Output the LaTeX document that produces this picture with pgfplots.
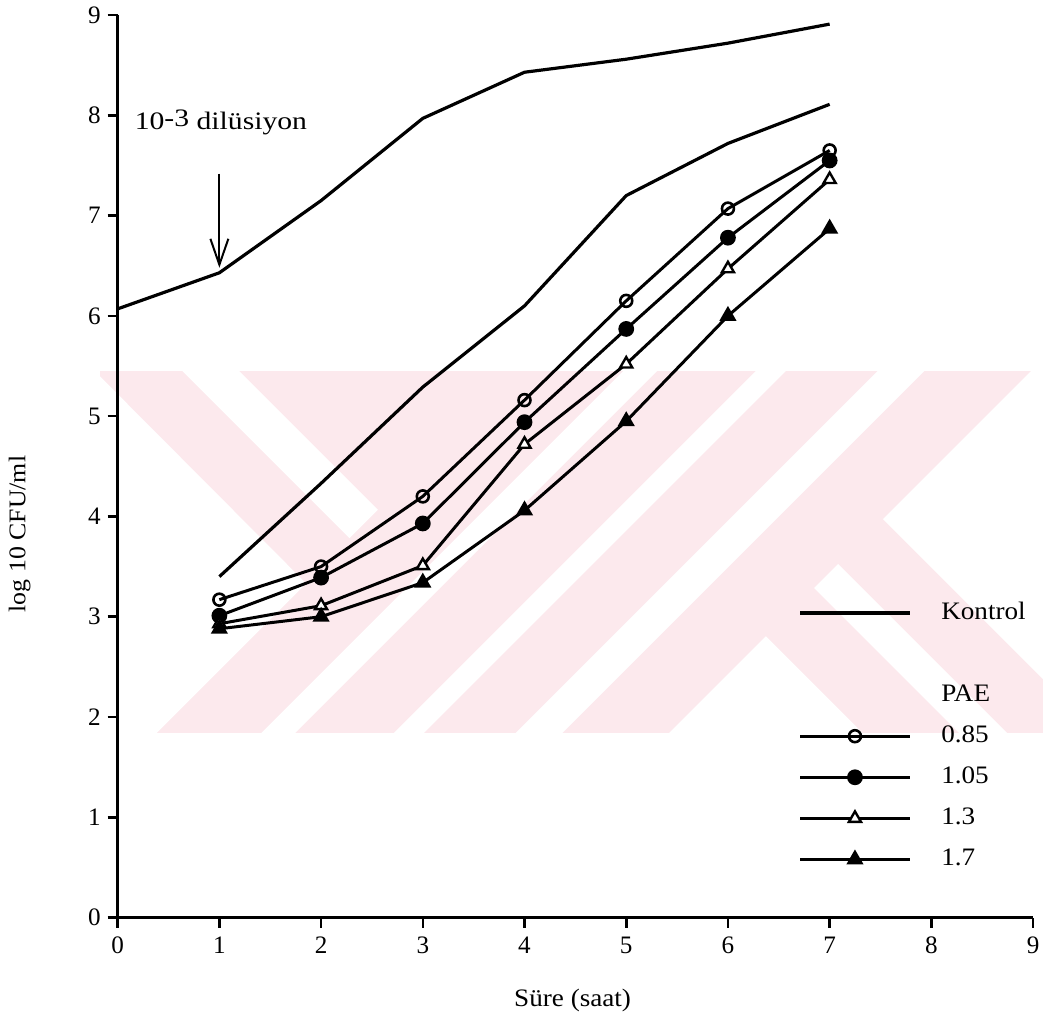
\documentclass[border=0pt]{standalone}
\usepackage{fontspec}
\setmainfont{Liberation Serif}
\newfontfamily\wide{Liberation Serif}[FakeStretch=1.08]
\newfontfamily\wider{Liberation Serif}[FakeStretch=1.18]
\usepackage{pgfplots}
\pgfplotsset{compat=1.18}
\usetikzlibrary{arrows.meta}
\definecolor{wm}{RGB}{252,233,237}

\pgfplotstableread{
x y
0 6.07
1 6.43
2 7.15
3 7.97
4 8.43
5 8.56
6 8.72
7 8.91
}\kontrolA
\pgfplotstableread{
x y
1 3.40
2 4.33
3 5.29
4 6.10
5 7.20
6 7.72
7 8.11
}\kontrolB
\pgfplotstableread{
x a b c d
1 3.17 3.01 2.93 2.88
2 3.50 3.39 3.11 3.00
3 4.20 3.93 3.51 3.34
4 5.16 4.94 4.72 4.06
5 6.15 5.87 5.52 4.95
6 7.07 6.78 6.47 6.00
7 7.65 7.55 7.36 6.87
}\pae

\begin{document}
\begin{tikzpicture}
\begin{scope}[x=0.5pt,y=-0.5pt,shift={(-59pt,460pt)}]
\useasboundingbox (0,0) rectangle (1046,1026);
\begin{scope}
\clip (100,372) rectangle (1046,735);
\fill[wm] (100,372) rectangle (1046,735);
\fill[white] (95,372) -- (307,585) -- (157,735) -- (95,735) -- cycle;
\fill[white] (183,372) -- (240,372) -- (379,511) -- (350.5,539.5) -- cycle;
\fill[white] (625,372) -- (659,372) -- (296,735) -- (262,735) -- cycle;
\fill[white] (758,372) -- (788,372) -- (425,735) -- (395,735) -- cycle;
\fill[white] (880,372) -- (927,372) -- (564,735) -- (517,735) -- cycle;
\fill[white] (1034,372) -- (1046,372) -- (1046,681) -- (885.5,520.5) -- cycle;
\fill[white] (840.5,565.5) -- (1010,735) -- (962,735) -- (816.5,589.5) -- cycle;
\fill[white] (768,638) -- (865,735) -- (671,735) -- cycle;
\end{scope}
\end{scope}
\begin{axis}[
  scale only axis, width=459pt, height=452.5pt,
  xmin=0, xmax=9, ymin=0, ymax=9,
  axis lines*=left,
  axis line style={line width=1.5pt},
  xtick={0,...,9}, ytick={0,...,9},
  tick align=outside, major tick length=5pt,
  tick style={line width=1.3pt, black},
  /pgf/number format/assume math mode=true,
  tick label style={font=\fontsize{12.6}{14}\selectfont},
  xticklabel style={yshift=-1pt},
  xlabel={Süre (saat)},
  ylabel={log 10 CFU/ml},
  xlabel style={font=\wide\fontsize{12.6}{14}\selectfont, at={(axis description cs:0.497,-0.092)}, anchor=center},
  ylabel style={font=\wide\fontsize{12}{13}\selectfont, at={(axis description cs:-0.107,0.425)}, anchor=center, rotate=0},
  legend style={draw=none, fill=none, at={(axis cs:6.69,3.156)}, anchor=north west,
    inner sep=0pt, row sep=9.1pt, column sep=15pt, font=\wide\fontsize{12.6}{14}\selectfont,
    nodes={inner sep=0pt, text height=9pt, text depth=2.5pt}},
  legend cell align=left,
  legend image code/.code={\draw[mark repeat=2,mark phase=2,#1] plot coordinates {(0pt,0pt) (27.5pt,0pt) (55pt,0pt)};},
  every axis plot/.append style={black, line width=1.5pt},
  clip=false,
]
\addplot[black, line width=1.6pt, forget plot] table[x=x,y=y] {\kontrolA};
\addplot[black, line width=1.6pt] table[x=x,y=y] {\kontrolB};
\addlegendentry{Kontrol}
\addlegendimage{empty legend}
\addlegendentry{}
\addlegendimage{empty legend}
\addlegendentry{PAE}
\addplot[mark=o, mark size=3pt, mark options={fill=white, line width=1.3pt, solid}] table[x=x,y=a] {\pae};
\addlegendentry{0.85}
\addplot[mark=*, mark size=3.2pt, mark options={fill=black, solid}] table[x=x,y=b] {\pae};
\addlegendentry{1.05}
\addplot[mark=triangle*, mark size=3.5pt, mark options={fill=white, line width=1.2pt, solid}] table[x=x,y=c] {\pae};
\addlegendentry{1.3}
\addplot[mark=triangle*, mark size=3.5pt, mark options={fill=black, solid}] table[x=x,y=d] {\pae};
\addlegendentry{1.7}
\draw[line width=1pt, -{Straight Barb[length=13pt, width=9pt, line width=1pt]}] (axis cs:1,7.42) -- (axis cs:1,6.48);
\node[anchor=west, font=\wider\fontsize{12.6}{14}\selectfont, inner sep=0pt] at (axis cs:0.165,7.93) {10\raisebox{1.5pt}{-3} dilüsiyon};
\end{axis}
\end{tikzpicture}
\end{document}
